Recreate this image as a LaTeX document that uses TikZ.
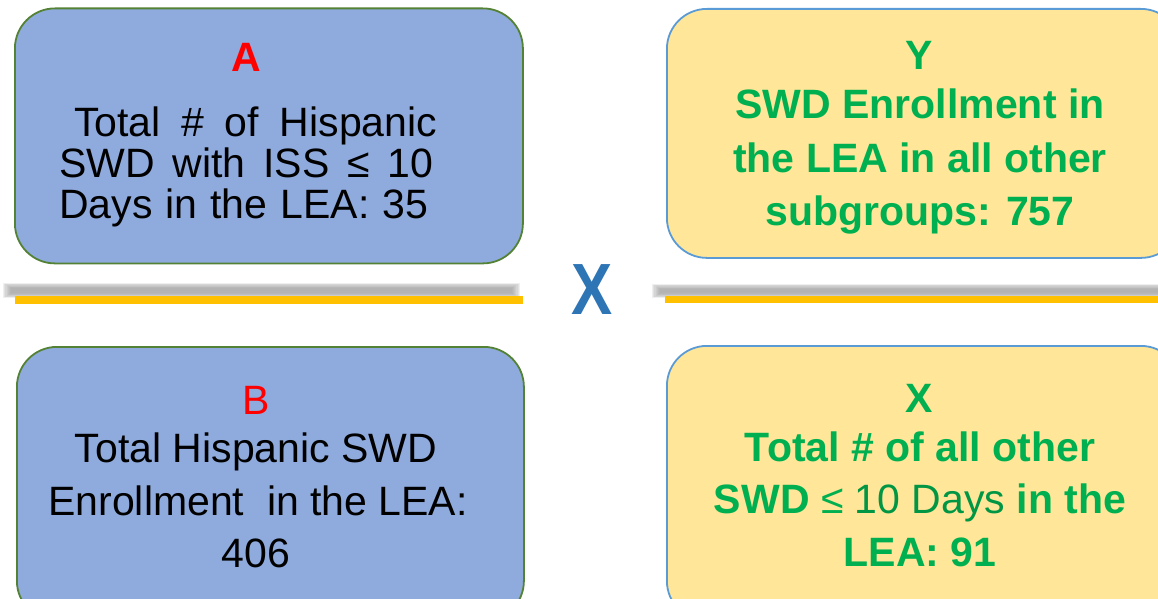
\documentclass[tikz,border=0pt]{standalone}
\usepackage{fontspec}
\setmainfont{Liberation Sans}

\definecolor{boxblue}{HTML}{8FAADC}
\definecolor{blueedge}{HTML}{548235}
\definecolor{boxgold}{HTML}{FFE699}
\definecolor{goldedge}{HTML}{5B9BD5}
\definecolor{txtgreen}{HTML}{00B050}
\definecolor{txtred}{HTML}{FF0000}
\definecolor{bigx}{HTML}{2E75B6}
\definecolor{baryellow}{HTML}{FFC000}
\definecolor{barshade}{HTML}{999999}

\newcommand{\bodysize}{\fontsize{41}{45}\selectfont}

\tikzset{
  hispbox/.style={draw=blueedge, line width=1.8pt, fill=boxblue,
    rounded corners=40pt, inner sep=0pt, anchor=north west},
  otherbox/.style={draw=goldedge, line width=1.8pt, fill=boxgold,
    rounded corners=40pt, inner sep=0pt, anchor=north west},
  plaintext/.style={inner sep=0pt, font=\bodysize, anchor=base},
  greentext/.style={inner sep=0pt, font=\bodysize\bfseries, text=txtgreen, anchor=base},
  shadowbar/.style={fill=barshade, fill opacity=0.16},
  bar/.style={fill=baryellow},
}

\begin{document}
\begin{tikzpicture}[x=1pt, y=-1pt]
\useasboundingbox (0,0) rectangle (1158,599);
\clip (0,0) rectangle (1158,599);

% ---- boxes ----
\node[hispbox, minimum width=508pt, minimum height=255pt] (boxA) at (14,7.5) {};
\node[otherbox, minimum width=514pt, minimum height=249pt] (boxY) at (666,8) {};
\node[hispbox, minimum width=507pt, minimum height=274pt] (boxB) at (16,346) {};
\node[otherbox, minimum width=514pt, minimum height=275pt] (boxX) at (666,345) {};

% ---- fraction bars with soft blurred shadows ----
\foreach \k in {0,...,7} {
  \fill[shadowbar] (3+1.2*\k,283+0.7*\k) rectangle (520-1.2*\k,298-0.7*\k);
  \fill[shadowbar] (652+1.2*\k,284+0.7*\k) rectangle (1170,298-0.7*\k);
}
\fill[bar] (15,296) rectangle (522.7,303.7);
\fill[bar] (665,295.5) rectangle (1158,303.2);

% ---- multiplication sign ----
\node[inner sep=0pt, text=bigx, font=\fontsize{72.6}{80}\selectfont\bfseries]
  (times) at (592.5,290) {\scalebox{0.85}[1]{X}};

% ---- box A ----
\node[plaintext, text=txtred, font=\bodysize\bfseries] (labA) at (246,72) {A};
\node[plaintext, anchor=base west] (a1) at (74,136) {\makebox[363pt][s]{Total \# of Hispanic}};
\node[plaintext, anchor=base west] (a2) at (59,177) {\makebox[374pt][s]{SWD with ISS ≤ 10}};
\node[plaintext, anchor=base west] (a3) at (59,218) {\makebox[369pt][s]{Days in the LEA: 35}};

% ---- box B ----
\node[plaintext, text=txtred] (labB) at (256,414) {B};
\node[plaintext] (b1) at (256,462) {Total Hispanic SWD};
\node[plaintext] (b2) at (258,515) {Enrollment~ in the LEA:};
\node[plaintext] (b3) at (256,567) {406};

% ---- box Y ----
\node[greentext] (labY) at (919,70) {Y};
\node[greentext] (y1) at (920,118) {SWD Enrollment in};
\node[greentext] (y2) at (920,172) {the LEA in all other};
\node[greentext] (y3) at (920,225) {subgroups: 757};

% ---- box X ----
\node[greentext] (labX) at (919,412) {X};
\node[greentext] (x1) at (920,461) {Total \# of all other};
\node[greentext] (x2) at (920,513) {SWD {\mdseries ≤ {\color{txtgreen!85!black}10 Days}} in the};
\node[greentext] (x3) at (920,566) {LEA: 91};
\end{tikzpicture}
\end{document}
